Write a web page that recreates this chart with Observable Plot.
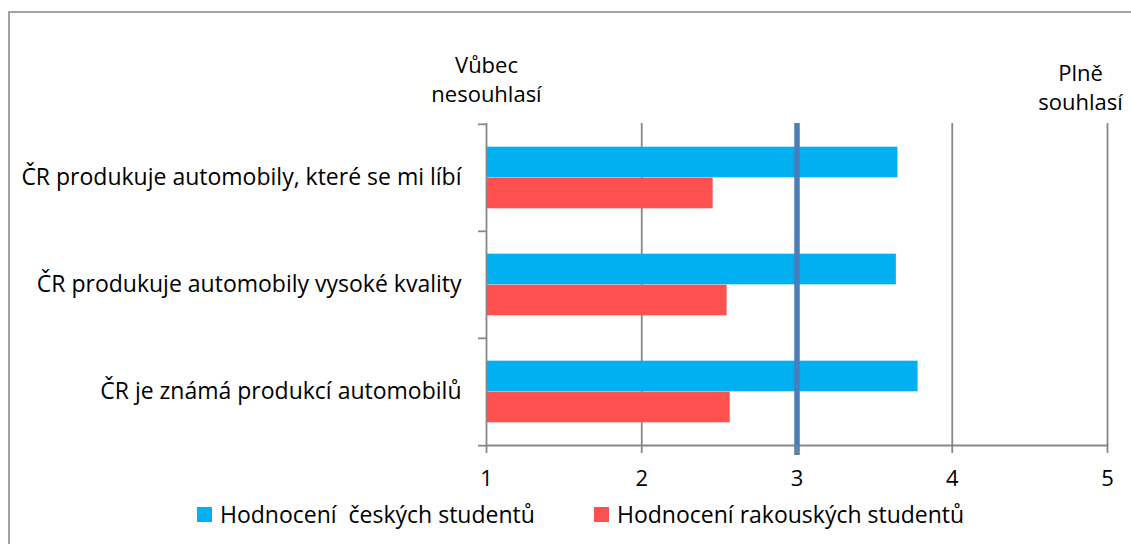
<!DOCTYPE html>
<html>
<head>
<meta charset="utf-8">
<script src="https://cdn.jsdelivr.net/npm/d3@7"></script>
<script src="https://cdn.jsdelivr.net/npm/@observablehq/plot@0.6"></script>
<style>
  html, body { margin: 0; padding: 0; background: #fff; overflow: hidden; }
  body { width: 1131px; height: 544px; position: relative; font-family: "Open Sans", Lato, sans-serif; color: #000; }
  #frame { position: absolute; left: 8px; top: 11px; width: 1200px; height: 600px;
           border-left: 2px solid #a2a2a2; border-top: 2px solid #a2a2a2; box-sizing: border-box; }
  #chart { position: absolute; left: 0; top: 0; }
  #legend { position: absolute; left: 0; top: 498px; width: 1131px; height: 32px; font-size: 23px; white-space: pre; }
  .item { position: absolute; top: 0; display: flex; align-items: center; height: 32px; }
  .sw { width: 15px; height: 15px; margin-right: 8px; }
</style>
</head>
<body>
<div id="frame"></div>
<div id="chart"></div>
<div id="legend"></div>
<script>
// ---- data ----
const categories = [
  "ČR produkuje automobily, které se mi líbí",
  "ČR produkuje automobily vysoké kvality",
  "ČR je známá produkcí automobilů"
];
const seriesNames = ["Hodnocení  českých studentů", "Hodnocení rakouských studentů"];
const czechValues = [3.65, 3.64, 3.78];
const austrianValues = [2.46, 2.55, 2.57];
const seriesColors = ["#00B0F0", "#FF5050"];
const xTicks = [1, 2, 3, 4, 5];
const midpoint = 3;
const scaleMin = 1;
const scaleMax = 5;
const endLabelLow = "Vůbec\nnesouhlasí";
const endLabelHigh = "Plně\nsouhlasí";

// ---- layout ----
const W = 1131, H = 500;
const mL = 486, mR = 24, mT = 123, mB = 55;
const bw = (H - mT - mB) / categories.length;
const gray = "#878787";
const font = "'Open Sans', Lato, sans-serif";
const fs = 23;

const czech = categories.map((c, i) => ({cat: c, v: czechValues[i]}));
const austrian = categories.map((c, i) => ({cat: c, v: austrianValues[i]}));

const plot = Plot.plot({
  width: W, height: H,
  marginLeft: mL, marginRight: mR, marginTop: mT, marginBottom: mB,
  style: {fontFamily: font, fontSize: fs + "px", color: "#000", background: "transparent"},
  x: {domain: [scaleMin, scaleMax], ticks: xTicks, label: null},
  y: {domain: categories, padding: 0, label: null},
  marks: [
    Plot.gridX(xTicks.filter(t => t !== scaleMin && t !== midpoint), {stroke: gray, strokeOpacity: 1, strokeWidth: 1.8}),
    Plot.barX(czech, {x1: scaleMin, x2: "v", y: "cat", fill: seriesColors[0], insetTop: 22.7, insetBottom: bw / 2}),
    Plot.barX(austrian, {x1: scaleMin, x2: "v", y: "cat", fill: seriesColors[1], insetTop: bw / 2, insetBottom: 22.7}),
    Plot.ruleX([scaleMin], {stroke: gray, strokeWidth: 1.8}),
    Plot.frame({anchor: "bottom", stroke: gray, strokeWidth: 1.8}),
    Plot.ruleX([midpoint], {stroke: "#4A7EBB", strokeWidth: 5.5, insetBottom: -10}),
    Plot.axisX({ticks: xTicks, tickFormat: d3.format("d"), tickSize: 8, tickPadding: 17, stroke: gray, strokeWidth: 1.8, fontSize: 22, label: null}),
    Plot.axisY({tickSize: 0, tickPadding: 25, fontSize: fs, label: null}),
    Plot.axisY({tickSize: 8, tickFormat: () => "", stroke: gray, strokeWidth: 1.8, dy: -bw / 2, label: null}),
    Plot.axisY({ticks: [categories[categories.length - 1]], tickSize: 8, tickFormat: () => "", stroke: gray, strokeWidth: 1.8, dy: bw / 2, label: null}),
    Plot.text([scaleMin], {x: d => d, text: () => endLabelLow, frameAnchor: "top", lineAnchor: "top", dy: -71, lineHeight: 1.32, fontSize: 22}),
    Plot.text([scaleMax], {x: d => d, text: () => endLabelHigh, frameAnchor: "top", lineAnchor: "top", dy: -63, dx: -27, lineHeight: 1.32, fontSize: 22})
  ]
});
document.getElementById("chart").appendChild(plot);

// ---- legend ----
const legend = document.getElementById("legend");
const legendLeft = [197, 594];
seriesNames.forEach((name, i) => {
  const it = document.createElement("div");
  it.className = "item";
  it.style.left = legendLeft[i] + "px";
  const sw = document.createElement("div");
  sw.className = "sw";
  sw.style.background = seriesColors[i];
  const tx = document.createElement("span");
  tx.textContent = name;
  it.appendChild(sw); it.appendChild(tx);
  legend.appendChild(it);
});
</script>
</body>
</html>
